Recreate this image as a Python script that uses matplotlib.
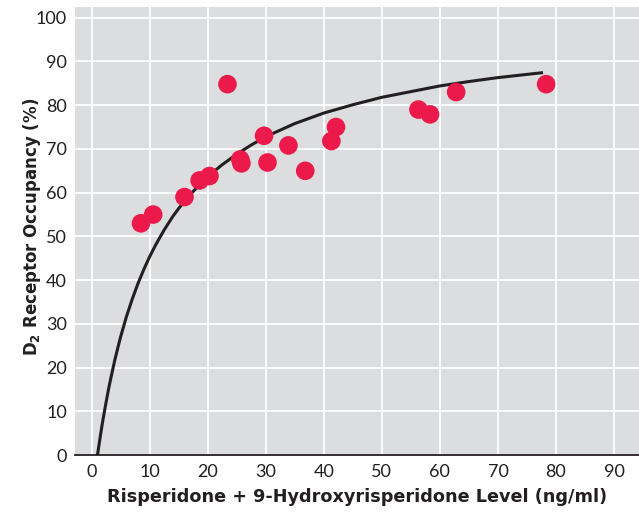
import matplotlib
matplotlib.use("Agg")
import matplotlib.pyplot as plt

# plasma level (ng/ml) vs D2 occupancy (%)
level = [8.5, 10.6, 16.0, 18.6, 20.3, 23.4, 25.6, 25.8, 29.7, 30.3, 33.9, 36.8, 41.3, 42.1, 56.3, 58.3, 62.8, 78.3]
occupancy = [53.0, 55.0, 59.0, 62.8, 63.8, 84.8, 67.6, 66.7, 73.0, 66.9, 70.8, 65.0, 71.8, 75.0, 79.0, 77.9, 83.0, 84.8]

# fitted curve
curve_x = [1, 1.25, 1.5, 1.75, 2, 2.5, 3, 3.5, 4, 4.5, 5, 6, 7, 8, 9, 10, 11, 12.5, 14, 15, 17.5, 20,
           22.5, 25, 27.5, 30, 35, 40, 45, 50, 55, 60, 65, 70, 77.5]
curve_y = [0, 2.2, 4.4, 6.5, 8.5, 12.2, 15.7, 18.8, 21.8, 24.5, 27.1, 31.7, 35.7, 39.3, 42.5, 45.4,
           48.0, 51.5, 54.6, 56.4, 60.3, 63.7, 66.4, 68.8, 70.9, 72.8, 75.8, 78.2, 80.1, 81.8, 83.1,
           84.4, 85.4, 86.3, 87.4]

xticks = [0, 10, 20, 30, 40, 50, 60, 70, 80, 90]
yticks = [0, 10, 20, 30, 40, 50, 60, 70, 80, 90, 100]

plt.rcParams['font.family'] = ['Lato', 'DejaVu Sans']
plt.rcParams['mathtext.fontset'] = 'dejavusans'

fig = plt.figure(figsize=(6.39, 5.12), dpi=100)
ax = fig.add_axes([0.118, 0.111, 0.882, 0.875])
ax.set_facecolor('#dcdddf')

ax.set_xlim(-2.8, 94.3)
ax.set_ylim(0, 102.4)
ax.set_xticks(xticks)
ax.set_yticks(yticks)
ax.grid(True, color='white', linewidth=1.3)
ax.set_axisbelow(True)
ax.tick_params(length=0, labelsize=13, colors='#231f20', pad=6)

for s in ['top', 'right', 'left']:
    ax.spines[s].set_visible(False)
ax.spines['bottom'].set_color('#231f20')
ax.spines['bottom'].set_linewidth(1.3)

ax.plot(curve_x, curve_y, color='#231f20', linewidth=2.2, zorder=3)
ax.scatter(level, occupancy, s=180, color='#ec1a4a', edgecolors='none', zorder=4)

ax.set_xlabel('Risperidone + 9-Hydroxyrisperidone Level (ng/ml)', family='DejaVu Sans',
              fontweight='bold', fontsize=12.7, color='#231f20', labelpad=6)
ax.set_ylabel(r'D$_\mathbf{2}$ Receptor Occupancy (%)', family='DejaVu Sans',
              fontweight='bold', fontsize=12, color='#231f20')
ax.yaxis.set_label_coords(-0.058, 0.51)

fig.savefig('out.png', dpi=100)
